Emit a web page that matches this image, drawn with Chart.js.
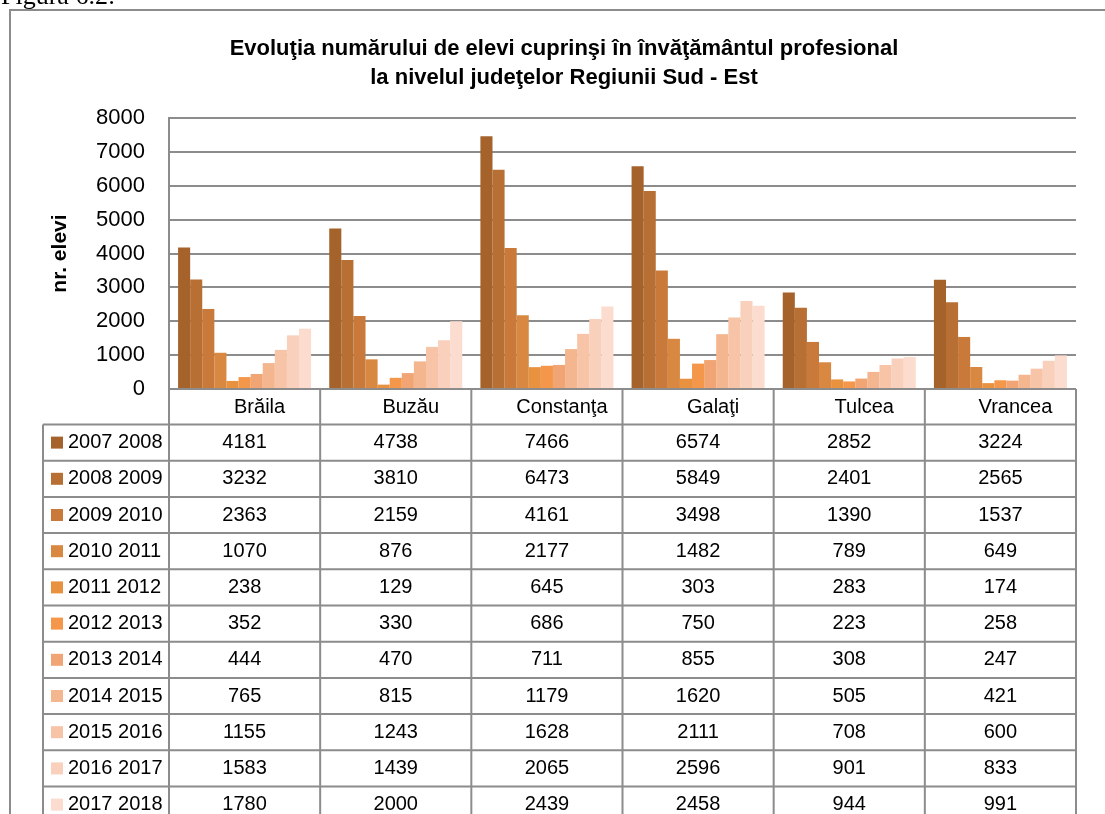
<!DOCTYPE html>
<html>
<head>
<meta charset="utf-8">
<script src="https://cdn.jsdelivr.net/npm/chart.js@4"></script>
<style>
  html, body { margin: 0; padding: 0; background: #fff; }
  canvas { display: block; }
</style>
</head>
<body>
<canvas id="chart" width="1105" height="814"></canvas>
<script>
// judete
const categories = ["Brăila", "Buzău", "Constanţa", "Galaţi", "Tulcea", "Vrancea"];

// ani scolari (serii)
const seriesLabels = ["2007 2008", "2008 2009", "2009 2010", "2010 2011", "2011 2012", "2012 2013",
                      "2013 2014", "2014 2015", "2015 2016", "2016 2017", "2017 2018"];

// nr. elevi pe judet
const an2007_2008 = [4181, 4738, 7466, 6574, 2852, 3224];
const an2008_2009 = [3232, 3810, 6473, 5849, 2401, 2565];
const an2009_2010 = [2363, 2159, 4161, 3498, 1390, 1537];
const an2010_2011 = [1070, 876, 2177, 1482, 789, 649];
const an2011_2012 = [238, 129, 645, 303, 283, 174];
const an2012_2013 = [352, 330, 686, 750, 223, 258];
const an2013_2014 = [444, 470, 711, 855, 308, 247];
const an2014_2015 = [765, 815, 1179, 1620, 505, 421];
const an2015_2016 = [1155, 1243, 1628, 2111, 708, 600];
const an2016_2017 = [1583, 1439, 2065, 2596, 901, 833];
const an2017_2018 = [1780, 2000, 2439, 2458, 944, 991];

const yTicks = [0, 1000, 2000, 3000, 4000, 5000, 6000, 7000, 8000];

const seriesValues = [an2007_2008, an2008_2009, an2009_2010, an2010_2011, an2011_2012, an2012_2013,
                      an2013_2014, an2014_2015, an2015_2016, an2016_2017, an2017_2018];

const colors = ["#a5632b", "#b86f33", "#c97a3a", "#d98841", "#e8913f", "#f4974a",
                "#f2a574", "#f4b68f", "#f8c4a8", "#f9d0bb", "#fbdccf"];

const lineColor = "#8c8c8c";
const FONT = "'Liberation Sans', Arial, sans-serif";

// tabel de date sub grafic + rama
const dataTable = {
    id: "dataTable",
    afterDraw(chart) {
        const ctx = chart.ctx;
        const x = chart.scales.x;
        const y = chart.scales.y;
        const colW = x.width / categories.length;
        const left = x.left, right = x.right;
        const base = y.getPixelForValue(0);
        const headBottom = 424.5;
        const rowH = 36.2;
        const firstLeft = 43;
        const tableBottom = headBottom + rowH * seriesLabels.length;

        ctx.save();
        // rama
        ctx.strokeStyle = lineColor;
        ctx.lineWidth = 2;
        ctx.beginPath();
        ctx.moveTo(10, 830); ctx.lineTo(10, 10); ctx.lineTo(1110, 10);
        ctx.stroke();

        // Figura
        ctx.fillStyle = "#000";
        ctx.font = "26px 'Liberation Serif', 'Times New Roman', serif";
        ctx.textBaseline = "alphabetic";
        ctx.textAlign = "left";
        ctx.fillText("Figura 6.2:", 1, 4);

        // linii tabel
        ctx.beginPath();
        for (let i = 0; i <= categories.length; i++) {
            const cx = left + i * colW;
            ctx.moveTo(cx, base); ctx.lineTo(cx, tableBottom);
        }
        ctx.moveTo(firstLeft, headBottom); ctx.lineTo(firstLeft, tableBottom);
        for (let r = 0; r <= seriesLabels.length; r++) {
            const ry = headBottom + r * rowH;
            ctx.moveTo(firstLeft, ry); ctx.lineTo(right, ry);
        }
        ctx.stroke();

        // antet
        ctx.font = "20px " + FONT;
        ctx.textBaseline = "middle";
        ctx.textAlign = "center";
        categories.forEach((c, i) => {
            ctx.fillText(c, x.getPixelForValue(i) + 15, (base + headBottom) / 2 + 1);
        });

        // randuri
        seriesLabels.forEach((lab, r) => {
            const cy = headBottom + r * rowH + rowH / 2;
            ctx.fillStyle = colors[r];
            ctx.fillRect(51, cy - 6, 12, 12);
            ctx.fillStyle = "#000";
            ctx.textAlign = "left";
            ctx.fillText(lab, 68, cy);
            ctx.textAlign = "center";
            seriesValues[r].forEach((v, i) => {
                ctx.fillText(String(v), x.getPixelForValue(i), cy);
            });
        });
        ctx.restore();
    }
};

new Chart(document.getElementById("chart"), {
    type: "bar",
    data: {
        labels: categories,
        datasets: seriesLabels.map((lab, i) => ({
            label: lab,
            data: seriesValues[i],
            backgroundColor: colors[i],
            borderWidth: 0,
            categoryPercentage: 0.88,
            barPercentage: 1
        }))
    },
    options: {
        responsive: false,
        animation: false,
        layout: { padding: { left: 52, right: 29, top: 0, bottom: 425 } },
        plugins: {
            legend: { display: false },
            tooltip: { enabled: false },
            title: {
                display: true,
                text: ["Evoluţia numărului de elevi cuprinşi în învăţământul profesional",
                       "la nivelul judeţelor Regiunii Sud - Est"],
                color: "#000",
                font: { family: FONT, size: 22, weight: "bold", lineHeight: 1.32 },
                padding: { top: 34, bottom: 26 }
            }
        },
        scales: {
            x: { display: false },
            y: {
                min: 0,
                max: 8000,
                afterBuildTicks: scale => { scale.ticks = yTicks.map(v => ({ value: v })); },
                afterFit: scale => { scale.width = 117; },
                ticks: {
                    color: "#000",
                    padding: 24,
                    font: { family: FONT, size: 22 },
                    callback: v => String(v)
                },
                grid: { color: lineColor, lineWidth: 2, drawTicks: false },
                border: { display: true, color: lineColor, width: 2 },
                title: {
                    display: true,
                    text: "nr. elevi",
                    color: "#000",
                    font: { family: FONT, size: 21, weight: "bold", lineHeight: 1 },
                    padding: { top: -2, bottom: 0 }
                }
            }
        }
    },
    plugins: [dataTable]
});
</script>
</body>
</html>
